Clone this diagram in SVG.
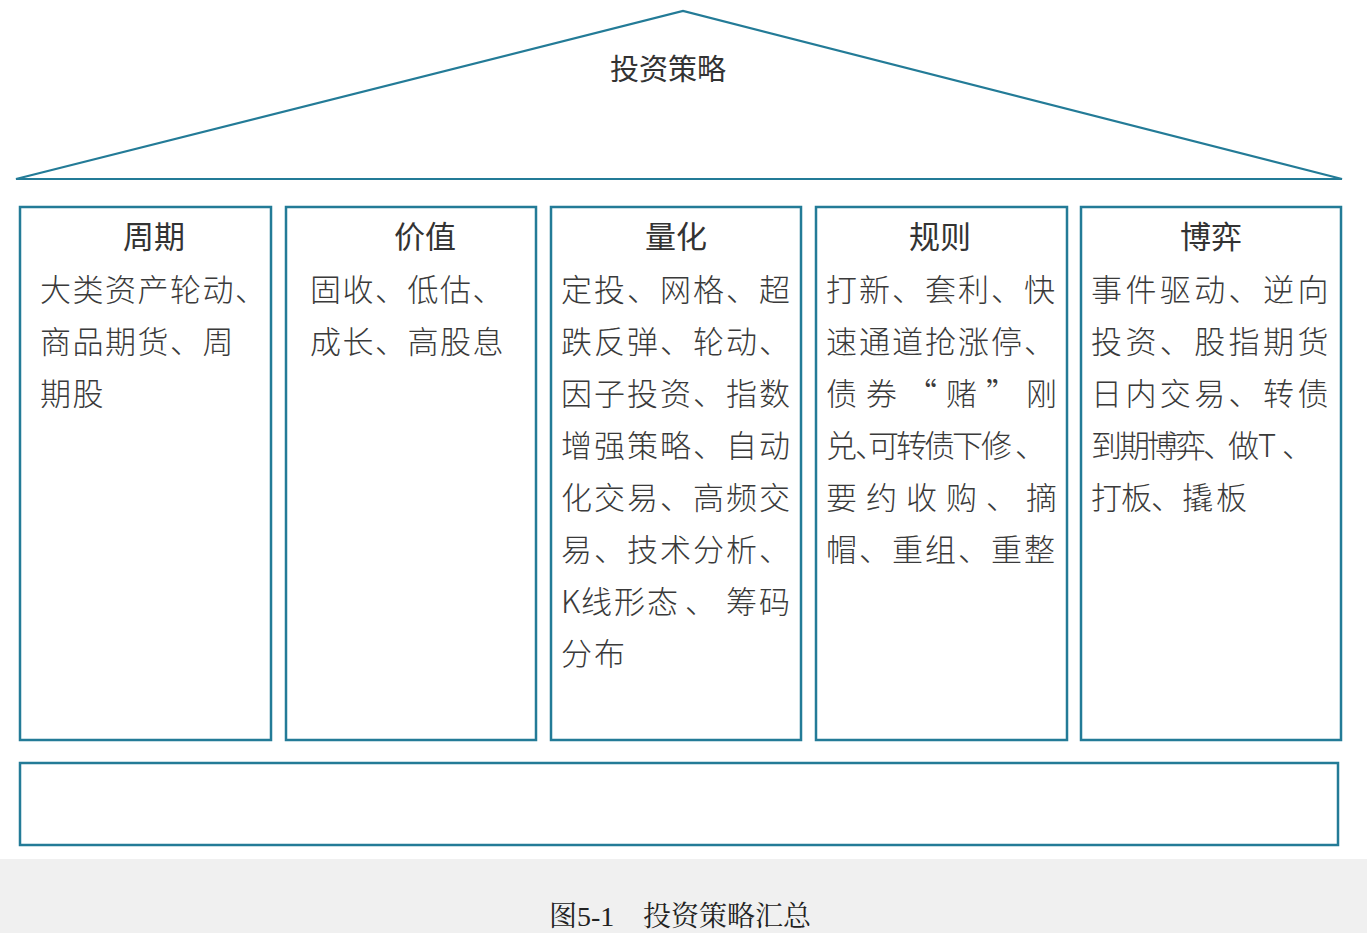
<svg xmlns="http://www.w3.org/2000/svg" width="1367" height="933" viewBox="0 0 1367 933">
<style>
.frame{fill:#ffffff;stroke:#237b97;stroke-width:2.5}
.roof{fill:none;stroke:#237b97;stroke-width:2.2;stroke-linejoin:miter}
.title{font-family:"Noto Sans CJK SC","Noto Sans",sans-serif;font-size:31px;font-weight:400;fill:#333333;text-anchor:middle}
.main{font-size:29px}
.body{font-family:"Noto Sans CJK SC","Noto Sans",sans-serif;font-size:31px;font-weight:300;fill:#3a3a3a}
.c12{letter-spacing:1.5px}
.c34{letter-spacing:2px}
.c5{letter-spacing:3.4px}
.cap{font-family:"Liberation Serif","Noto Serif CJK SC","Noto Sans CJK SC",serif;font-size:28px;fill:#222222}
</style>
<rect x="0" y="0" width="1367" height="933" fill="#ffffff"/>
<rect x="0" y="859" width="1367" height="74" fill="#f0f0f0"/>
<g id="roof">
<polygon class="roof" points="16,179 683,11 1342,179"/>
<text class="title main" x="668" y="80">投资策略</text>
</g>
<g id="connectors"></g>
<g id="col-zhouqi">
<rect class="frame" x="20" y="207" width="251" height="533"/>
<text class="title" x="154" y="248">周期</text>
<text class="body c12" x="40" y="301">大类资产轮动、</text>
<text class="body c12" x="40" y="353">商品期货、周</text>
<text class="body c12" x="40" y="405">期股</text>
</g>
<g id="col-jiazhi">
<rect class="frame" x="286" y="207" width="250" height="533"/>
<text class="title" x="425" y="248">价值</text>
<text class="body c12" x="310" y="301">固收、低估、</text>
<text class="body c12" x="310" y="353">成长、高股息</text>
</g>
<g id="col-lianghua">
<rect class="frame" x="551" y="207" width="250" height="533"/>
<text class="title" x="676" y="248">量化</text>
<text class="body c34" x="561" y="301">定投、网格、超</text>
<text class="body c34" x="561" y="353">跌反弹、轮动、</text>
<text class="body c34" x="561" y="405">因子投资、指数</text>
<text class="body c34" x="561" y="457">增强策略、自动</text>
<text class="body c34" x="561" y="509">化交易、高频交</text>
<text class="body c34" x="561" y="561">易、技术分析、</text>
<text class="body" x="561 581 614 647 685 726 759" y="613">K线形态、筹码</text>
<text class="body c34" x="561" y="665">分布</text>
</g>
<g id="col-guize">
<rect class="frame" x="816" y="207" width="251" height="533"/>
<text class="title" x="940" y="248">规则</text>
<text class="body c34" x="826" y="301">打新、套利、快</text>
<text class="body c34" x="826" y="353">速通道抢涨停、</text>
<text class="body" x="826 866 906 946 986 1026" y="405">债券“赌”刚</text>
<text class="body" x="826 855 868 896 924 952 981 1015" y="457">兑、可转债下修、</text>
<text class="body" x="826 866 906 946 986 1026" y="509">要约收购、摘</text>
<text class="body c34" x="826" y="561">帽、重组、重整</text>
</g>
<g id="col-boyi">
<rect class="frame" x="1081" y="207" width="260" height="533"/>
<text class="title" x="1211" y="248">博弈</text>
<text class="body c5" x="1091" y="301">事件驱动、逆向</text>
<text class="body c5" x="1091" y="353">投资、股指期货</text>
<text class="body c5" x="1091" y="405">日内交易、转债</text>
<text class="body" x="1091 1119 1147 1175 1203 1228 1258 1282" y="457">到期博弈、做T、</text>
<text class="body" x="1091 1121 1151 1182 1216" y="509">打板、撬板</text>
</g>
<g id="base">
<rect class="frame" x="20" y="763" width="1318" height="82"/>
</g>
<text class="cap" y="926"><tspan x="549">图5-1</tspan><tspan x="643">投资策略汇总</tspan></text>
</svg>
